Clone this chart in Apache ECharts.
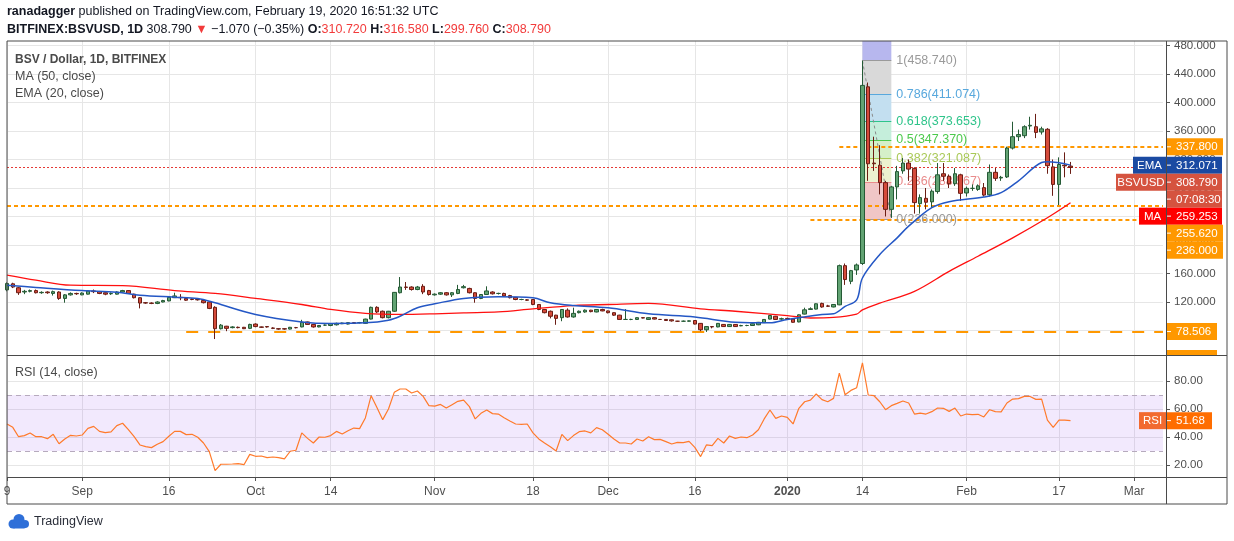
<!DOCTYPE html>
<html><head><meta charset="utf-8">
<script src="https://cdn.jsdelivr.net/npm/echarts@6/dist/echarts.min.js"></script>
<style>html,body{margin:0;padding:0;background:#fff;}#c{width:1234px;height:541px;}</style>
</head><body><div id="c"></div>
<script>
// ---------- categories ----------
const startDay = Date.UTC(2019, 7, 19);
const dayCount = 201; // Aug 19 2019 .. Mar 6 2020 (right padding)
const dates = [];
for (let i = 0; i < dayCount; i++) dates.push(new Date(startDay + i * 864e5).toISOString().slice(0, 10));

const xTickIdx = [0, 13, 28, 43, 56, 74, 91, 104, 119, 135, 148, 166, 182, 195];
const xTickText = ['9', 'Sep', '16', 'Oct', '14', 'Nov', '18', 'Dec', '16', '2020', '14', 'Feb', '17', 'Mar'];
const priceTicks = [80, 120, 160, 200, 240, 280, 320, 360, 400, 440, 480];
const rsiTicks = [20, 40, 60, 80];

// ---------- OHLC ----------
const openP = [137,145.5,140,134,135,136,133,134,132,134, 125,130,132,130,131,135.5,134.5,133,131.5,131,
134,136,131,126,119,118.5,118,120,121.5,126, 126.5,125,124,123.5,122,120,112.5,82.5,86,84,
84.5,84.5,83,89,85,85.5,83.5,82.5,82.5,82, 84,85,92,88.5,85,87.5,87,88,89.5,89,
91,91,90,96,112.5,107,98,107,133,141, 141,137.5,142,136,130,131,133,130,132,140,
139,133,125,130.5,134,132,132,129,126.5,123.5, 123,123.5,116.5,109.5,107,101.5,98,108.5,99,105,
106,108.5,106,109.5,107.5,105,101.5,95.5,95.5,95.5, 98,95.5,98,95.5,95.5,95,93,93,93,94,
90,81,85.5,85,88.5,85.5,88.5,86.5,87,87, 88,91,96,100,96,97,96,92,103,109.5,
110,118,114.5,113,116,171,149,165,174,422, 315,312,287.5,250,281.5,304,315,307.5,258,265.5,
260.5,275,300,296.5,286,298.5,273,279.5,278,280.5, 270.5,302,294,295.5,336,352,353.4,367,366,358.6,
362.4,309.6,285,312,310.72];
const closeP = [146,141,133,135,136,133,133.5,133,134.5,125, 130,132,131.5,132.5,135.5,134.5,132,131,132,134,
136,132,126,118.5,118.5,118,120,122,126.5,128.5, 126,122.5,123.5,123,119,111,82.5,87.5,83,85,
84,82.5,88.5,85.5,84.5,85,83,82,82,84.5, 84,91.5,88.5,85,87,87.5,89.5,90,90.5,91,
90,91,96,112.5,106,98,107,133.5,141,140.5, 137.5,141,134,130.5,131,133,130,133,137.5,141.5,
133,125,130.5,135.5,131.5,132,128.5,126,123.5,123.5, 122.5,116.5,109.5,105,100,97,109.5,99,104,107,
108.5,106.5,109.5,107.5,105,101.5,95.5,95.5,95.5,98, 97.5,98,96,95.5,94,93.5,93,93,93.5,89,
81,85.5,85,90,85.5,88.5,85.5,87,87,89.5, 91.5,95.5,101,95.5,96.5,96.5,91.5,102,109,110.5,
117.5,113,114,116.5,171,151.5,164,172,424,314, 314,287.5,250,281.5,303,315,306.5,259.5,266.5,260,
275.5,298.5,296.5,286,300,272.5,279.5,279.5,283,270, 302,293.5,295,336,352,355,366,368,358,363,
311.3,285,313,311,308.79];
const lowP = [135,139.5,130,131,133.5,132,131.5,131.5,129,123, 119,129,130,129.5,130.5,132.5,131,129.5,130,130.5,
133.5,131.5,125,111,117.5,117,117,119.5,121,125.5, 122.5,121.5,122.5,122,118,110,68,81.5,79,83,
83,82,82,84.5,83.5,84,82,81,81,81.5, 83,84.5,88,84,84.5,86.5,86,87,89,88.5,
89.5,90,89.5,95.5,104.5,97,97,106,132,137, 136,136.5,131,129,129,130,129,127,131,139,
132,119,124,130,130.5,130.5,127.5,125,122.5,122.5, 121.5,115.5,108.5,104,97,88,93,98,98,104,
105,105.5,105.5,107,104,100.5,95,95,94.5,95, 97,95,95.5,95,93.5,92.5,92,92.5,92.5,88.5,
79,78,83,84.5,85,85,85,86,86,86.5, 87.5,90.5,95.5,95,95,95.5,91,91.5,102.5,109,
109.5,112,113,112.5,115.5,144,145,158,172,290, 304,271,240,238,264,300,290,244,244,250,
252,272,290,280,283,262,268,276,276,268, 268,290,290,294,334,346,350,362,350,355,
300,269,256,295,299.76];
const highP = [147.5,147,141,137,137.5,137.5,135,135,136,135, 131,133.5,133,133.5,136.5,137.5,135.5,133.5,133.5,135,
137,136.5,131.5,126.5,120,119.5,121,123,127,133, 131,126,125,124.5,123,121,114,89,86.5,86,
85.5,85,89.5,90,85.5,86,84.5,83,83,85, 85,95,92.5,89,87.5,88.5,90.5,91,91,91.5,
91.5,92,96.5,113.5,114,108,107.5,134,155,148, 142,142.5,145,137,132,134,134,134,144,144,
140,133.5,131,142,135,133,133,130,127,124.5, 124,124,117,110,108,102,110,111,112,108,
109.5,109,110,110.5,108,105.5,102,110,96.5,98.5, 98.5,98.5,98.5,96,96,95.5,93.5,94,94,94.5,
90.5,86,86,90.5,89,89,89,88,88,90, 92,96,101.5,100.5,98,98,96.5,102.5,112,112.5,
118,119,116,117,172.5,174,165,174,458.74,428, 352,340,290,283,311,322,320,309,271,280,
278,315,315,299,308,300,282,285,285,287, 313,308,297,338,373,362,368,380,384,366,
364,320,323,330,316.58];

// ---------- indicators ----------
const maIdx = [0,5,11,20,29,36,43,51,56,62,68,74,79,85,91,98,104,111,120,126,135,139,143,147,148,151,157,163,168,174,180,184];
const maVal = [157.7,150.6,143.6,143,136,132,125,116.5,109.5,104,102.5,103.4,104.8,106,110.4,115,116.5,118,110.4,107,101,97.5,98.3,103,109,118.5,134.9,163,184.2,210,238.2,259.25];
const emaIdx = [0,5,13,19,23,29,33,36,43,51,56,62,66,68,71,74,79,85,91,94,98,104,111,119,126,132,135,141,143,145,147,148,151,154,156,160,163,169,172,175,179,180,184];
const emaVal = [143.6,140.5,136,133.8,129.6,126.8,125,118.8,102.4,92,89.8,90.7,94.5,100,112,117.4,125,127.2,125.8,118.8,115,111.8,103.4,99,91.7,90.7,95.4,102.4,103.4,113.7,123,153.7,186.6,210,226.5,252.3,260.8,267.3,273.5,290,315.7,316.7,312.07];
const rsi = [49.3,46.9,40.2,41,42.9,40.2,40.2,38.8,41.9,35.2, 38.6,41.2,40.7,41.4,46.2,47.6,44,43.1,43.6,48.1,
49.8,45.2,40.2,34.3,33.1,32.4,34.8,36.7,40.5,44, 44,41.7,41.9,39.8,35.7,29.5,16,20.5,20.5,20.7,
21,20.2,27.6,26.2,26.4,25.2,25.7,25.2,24.3,29.8, 30.5,42.9,39,35.7,40,39.8,41,44,42.1,44.5,
46.4,46,53.6,69.5,61,52.4,60,71.9,74.3,74.3, 71.4,72.9,69,62.4,62.1,63.3,60.7,63.1,65.5,66.4,
61.7,52.9,56.9,59.3,56.7,56.4,53.8,51.4,49.3,49, 49.3,42.9,38.6,35.7,33,30,41.9,37.4,41,43.8,
44.3,42.9,46.7,45.2,41.9,38.6,35.7,35.7,35,38.6, 37.1,40.2,38.1,38.3,36.7,35,36.2,36,36.9,32.6,
26,34.3,33.8,39,35.7,40.7,39,40,39.5,41.4, 45.2,52.9,59.3,53.3,55,54,49.3,60.5,65.2,66.4,
70.7,66.7,65.2,67.6,85.7,70.2,73.3,75.2,92.9,70, 69.5,65.2,59.5,62.4,64,65.7,64.3,56.4,57.1,56.4,
58.1,60.7,60.5,58.3,60.7,55,56.4,56,56.2,54.3, 59.5,58.1,57.9,64.3,67.1,67.4,69,69,66.9,67.1,
52.1,46.9,52.1,52.1,51.68];

// ---------- levels ----------
const fibStartIdx = 148, fibEndIdx = 153;
const fibLevels = [0, 0.236, 0.382, 0.5, 0.618, 0.786, 1];
const fibPrices = [236.000, 288.567, 321.087, 347.370, 373.653, 411.074, 458.740];
const fibLineColors = ['#9a9a9a', '#e98b8b', '#a9c957', '#4cc94c', '#2ec48a', '#58a8dd', '#9a9a9a'];
const fibFillColors = ['#f0c6c6', '#ecf2cf', '#d5f0c9', '#c5eedb', '#c3dff0', '#d9d9d9'];
const fibTopFill = '#b7b7ee';
const hLevels = [337.800, 255.620, 236.000, 78.506];
const hStartIdx = [144, 0, 139, 31];
const lastPrice = 308.790, lastEma = 312.071, lastMa = 259.253, lastRsi = 51.68;

// ---------- build ----------
const FONT = 'Liberation Sans, Arial, sans-serif';
const tickMap = {}; xTickIdx.forEach((v, k) => tickMap[v] = xTickText[k]);
const isTick = (idx) => tickMap[idx] !== undefined;
const candleData = openP.map((o, i) => [o, closeP[i], lowP[i], highP[i]]);
const sparse = (idxs, vals) => { const a = new Array(dayCount).fill(null); idxs.forEach((ix, k) => a[ix] = vals[k]); return a; };
const maData = sparse(maIdx, maVal);
const emaData = sparse(emaIdx, emaVal);
const yMin = 45.6, yMax = 486.3;

const fibAreas = [];
for (let k = 0; k < fibPrices.length - 1; k++) {
  fibAreas.push([{ coord: [fibStartIdx, fibPrices[k]], itemStyle: { color: fibFillColors[k] } }, { coord: [fibEndIdx, fibPrices[k + 1]] }]);
}
fibAreas.push([{ coord: [fibStartIdx, fibPrices[6]], itemStyle: { color: fibTopFill } }, { coord: [fibEndIdx, yMax] }]);
const fibLines = fibPrices.map((p, k) => [
  { coord: [fibStartIdx, p], lineStyle: { color: fibLineColors[k], width: 1, type: 'solid' },
    label: { show: true, position: 'end', distance: 5, color: fibLineColors[k], fontSize: 12.5, fontFamily: FONT,
      formatter: fibLevels[k] + '(' + p.toFixed(3) + ')' } },
  { coord: [fibEndIdx, p] }
]);
fibLines.push([{ coord: [fibStartIdx, fibPrices[6]], lineStyle: { color: '#8a8a8a', width: 1, type: [3, 3] }, label: { show: false } }, { coord: [fibEndIdx, fibPrices[0]] }]);

const hLines = hLevels.map((p, k) => [
  { coord: [hStartIdx[k], p], lineStyle: { color: '#ff9800', width: 2, type: k === 3 ? [12, 10] : [4, 3] } },
  { coord: [dayCount - 1, p] }
]);
hLines.push([{ coord: [0, lastPrice], lineStyle: { color: '#e53935', width: 1, type: [2, 2] } }, { coord: [dayCount - 1, lastPrice] }]);

const axisLabelColor = '#4f4f4f';
const gridLineColor = '#e6e6e6';

const option = {
  animation: false,
  textStyle: { fontFamily: FONT },
  grid: [
    { left: 7, right: 71, top: 41, height: 314 },
    { left: 7, right: 71, top: 355, height: 122 }
  ],
  xAxis: [
    { type: 'category', gridIndex: 0, data: dates, boundaryGap: false,
      axisLine: { show: false }, axisTick: { show: false }, axisLabel: { show: false },
      splitLine: { show: true, interval: isTick, lineStyle: { color: gridLineColor } } },
    { type: 'category', gridIndex: 1, data: dates, boundaryGap: false,
      axisLine: { show: false },
      axisTick: { show: true, interval: isTick, length: 4, lineStyle: { color: '#555' } },
      axisLabel: { interval: isTick, color: axisLabelColor, fontSize: 12, margin: 9,
        formatter: (v, idx) => tickMap[idx] === '2020' ? '{b|2020}' : (tickMap[idx] || ''),
        rich: { b: { fontWeight: 'bold', color: axisLabelColor, fontSize: 12 } } },
      splitLine: { show: true, interval: isTick, lineStyle: { color: gridLineColor } } }
  ],
  yAxis: [
    { type: 'value', gridIndex: 0, position: 'right', offset: 3, min: yMin, max: yMax,
      axisLine: { show: false },
      axisTick: { show: true, length: 4, customValues: priceTicks, lineStyle: { color: '#555' } },
      axisLabel: { customValues: priceTicks, formatter: v => v.toFixed(3), color: axisLabelColor, fontSize: 11.5, margin: 8 },
      splitLine: { show: true, lineStyle: { color: gridLineColor } } },
    { type: 'value', gridIndex: 1, position: 'right', offset: 3, min: 11.4, max: 98.6,
      axisLine: { show: false },
      axisTick: { show: true, length: 4, customValues: rsiTicks, lineStyle: { color: '#555' } },
      axisLabel: { customValues: rsiTicks, formatter: v => v.toFixed(2), color: axisLabelColor, fontSize: 11.5, margin: 8 },
      splitLine: { show: true, lineStyle: { color: gridLineColor } } }
  ],
  series: [
    { name: 'fib', type: 'line', xAxisIndex: 0, yAxisIndex: 0, data: [], z: 1, silent: true,
      markArea: { silent: true, data: fibAreas },
      markLine: { silent: true, symbol: ['none', 'none'], data: fibLines } },
    { name: 'levels', type: 'line', xAxisIndex: 0, yAxisIndex: 0, data: [], z: 3, silent: true,
      markLine: { silent: true, symbol: ['none', 'none'], label: { show: false }, data: hLines } },
    { name: 'BSVUSD', type: 'candlestick', xAxisIndex: 0, yAxisIndex: 0, data: candleData, z: 5, barWidth: 4,
      itemStyle: { color: '#62a373', color0: '#d54b3b', borderColor: '#255a35', borderColor0: '#6b1d14', borderWidth: 1 } },
    { name: 'MA', type: 'line', xAxisIndex: 0, yAxisIndex: 0, data: maData, connectNulls: true, smooth: 0.35,
      showSymbol: false, z: 6, lineStyle: { color: '#ff1010', width: 1.3 } },
    { name: 'EMA', type: 'line', xAxisIndex: 0, yAxisIndex: 0, data: emaData, connectNulls: true, smooth: 0.35,
      showSymbol: false, z: 6, lineStyle: { color: '#2457c5', width: 1.5 } },
    { name: 'RSI', type: 'line', xAxisIndex: 1, yAxisIndex: 1, data: rsi, showSymbol: false, z: 6,
      lineStyle: { color: '#ff7a2b', width: 1.2 },
      markArea: { silent: true, itemStyle: { color: 'rgba(150, 70, 235, 0.12)' }, data: [[{ yAxis: 30 }, { yAxis: 70 }]] },
      markLine: { silent: true, symbol: ['none', 'none'], label: { show: false },
        lineStyle: { color: '#b6aabd', width: 1, type: [5, 4] }, data: [{ yAxis: 70 }, { yAxis: 30 }] } }
  ]
};

const chart = echarts.init(document.getElementById('c'));
chart.setOption(option);

// ---------- annotations (badges, frame, texts) ----------
const G = [];
const txt = (x, y, text, size, color, extra) => G.push(Object.assign({ type: 'text', x, y, z: 120,
  style: Object.assign({ text, fill: color, font: size + 'px ' + FONT, verticalAlign: 'middle' }, extra || {}) }));
const rightBadge = (yc, w, text, bg) => {
  G.push({ type: 'rect', z: 110, shape: { x: 1167, y: yc - 8.5, width: w, height: 17 }, style: { fill: bg } });
  G.push({ type: 'line', z: 111, shape: { x1: 1167, y1: yc, x2: 1171, y2: yc }, style: { stroke: '#fff', lineWidth: 1 } });
  txt(1176, yc + 0.5, text, 11.5, '#fff');
};
const leftBadge = (yc, x, text, bg) => {
  G.push({ type: 'rect', z: 110, shape: { x, y: yc - 8.5, width: 1166 - x, height: 17 }, style: { fill: bg } });
  G.push({ type: 'text', z: 120, x: (x + 1166) / 2, y: yc + 0.5,
    style: { text, fill: '#fff', font: '11.5px ' + FONT, align: 'center', verticalAlign: 'middle' } });
};
const py = v => chart.convertToPixel({ yAxisIndex: 0 }, v);
const ry = v => chart.convertToPixel({ yAxisIndex: 1 }, v);

// stacked badges (sorted by price, pushed down to avoid overlap)
const stack = [
  { v: hLevels[0], text: '337.800', bg: '#ff9800', w: 56 },
  { v: lastEma, text: '312.071', bg: '#1a4aa2', w: 55, left: ['EMA', 1133] },
  { v: lastPrice, text: '308.790', bg: '#d5533f', w: 55, left: ['BSVUSD', 1116] },
  { v: null, text: '07:08:30', bg: '#d5533f', w: 55 },
  { v: lastMa, text: '259.253', bg: '#ff0000', w: 55, left: ['MA', 1139] },
  { v: hLevels[1], text: '255.620', bg: '#ff9800', w: 56 },
  { v: hLevels[2], text: '236.000', bg: '#ff9800', w: 56 }
];
let prevY = -1e9;
stack.forEach(s => {
  let y = s.v == null ? prevY + 17 : Math.max(py(s.v), prevY + 17);
  prevY = y;
  rightBadge(y, s.w, s.text, s.bg);
  if (s.left) leftBadge(y, s.left[1], s.left[0], s.bg);
});
rightBadge(py(hLevels[3]), 50, '78.506', '#ff9800');
G.push({ type: 'rect', z: 110, shape: { x: 1167, y: 350, width: 50, height: 5 }, style: { fill: '#ff9800' } });
rightBadge(ry(lastRsi), 45, '51.68', '#ff6d00');
leftBadge(ry(lastRsi), 1139, 'RSI', '#f26a30');

// frame
const frameStroke = '#4a4a4a';
G.push({ type: 'rect', z: 100, shape: { x: 7, y: 41, width: 1220, height: 463 }, style: { fill: 'none', stroke: frameStroke, lineWidth: 1 } });
G.push({ type: 'line', z: 100, shape: { x1: 1166.5, y1: 41, x2: 1166.5, y2: 504 }, style: { stroke: frameStroke, lineWidth: 1 } });
G.push({ type: 'line', z: 100, shape: { x1: 7, y1: 355.5, x2: 1227, y2: 355.5 }, style: { stroke: frameStroke, lineWidth: 1 } });
G.push({ type: 'line', z: 100, shape: { x1: 7, y1: 477.5, x2: 1227, y2: 477.5 }, style: { stroke: frameStroke, lineWidth: 1 } });

// header
G.push({ type: 'text', z: 120, x: 7, y: 12, style: {
  text: '{b|ranadagger} published on TradingView.com, February 19, 2020 16:51:32 UTC',
  font: '12.5px ' + FONT, fill: '#131722', verticalAlign: 'middle',
  rich: { b: { fontWeight: 'bold', fontSize: 12.5, fontFamily: FONT, fill: '#131722' } } } });
G.push({ type: 'text', z: 120, x: 7, y: 30, style: {
  text: '{b|BITFINEX:BSVUSD, 1D} 308.790 {r|▼} −1.070 (−0.35%) {b|O:}{r|310.720} {b|H:}{r|316.580} {b|L:}{r|299.760} {b|C:}{r|308.790}',
  font: '12.5px ' + FONT, fill: '#131722', verticalAlign: 'middle',
  rich: { b: { fontWeight: 'bold', fontSize: 12.5, fontFamily: FONT, fill: '#131722' },
          r: { fontSize: 12.5, fontFamily: FONT, fill: '#f23b3b' } } } });

// legends inside panes
txt(15, 60, 'BSV / Dollar, 1D, BITFINEX', 12.5, '#4a4a4a', { fontWeight: 'bold', font: 'bold 12.5px ' + FONT });
txt(15, 77, 'MA (50, close)', 12.5, '#4a4a4a');
txt(15, 94, 'EMA (20, close)', 12.5, '#4a4a4a');
txt(15, 373, 'RSI (14, close)', 12.5, '#4a4a4a');

// footer logo + text
G.push({ type: 'group', z: 120, children: [
  { type: 'circle', shape: { cx: 13, cy: 524, r: 4.5 }, style: { fill: '#2e6fd8' } },
  { type: 'circle', shape: { cx: 19, cy: 519.5, r: 5.5 }, style: { fill: '#2e6fd8' } },
  { type: 'circle', shape: { cx: 25, cy: 524, r: 4 }, style: { fill: '#2e6fd8' } },
  { type: 'rect', shape: { x: 12, y: 523, width: 14, height: 5.5, r: 2 }, style: { fill: '#2e6fd8' } }
] });
txt(34, 522, 'TradingView', 12.5, '#2a2e39');

chart.setOption({ graphic: G });
</script>
</body></html>
